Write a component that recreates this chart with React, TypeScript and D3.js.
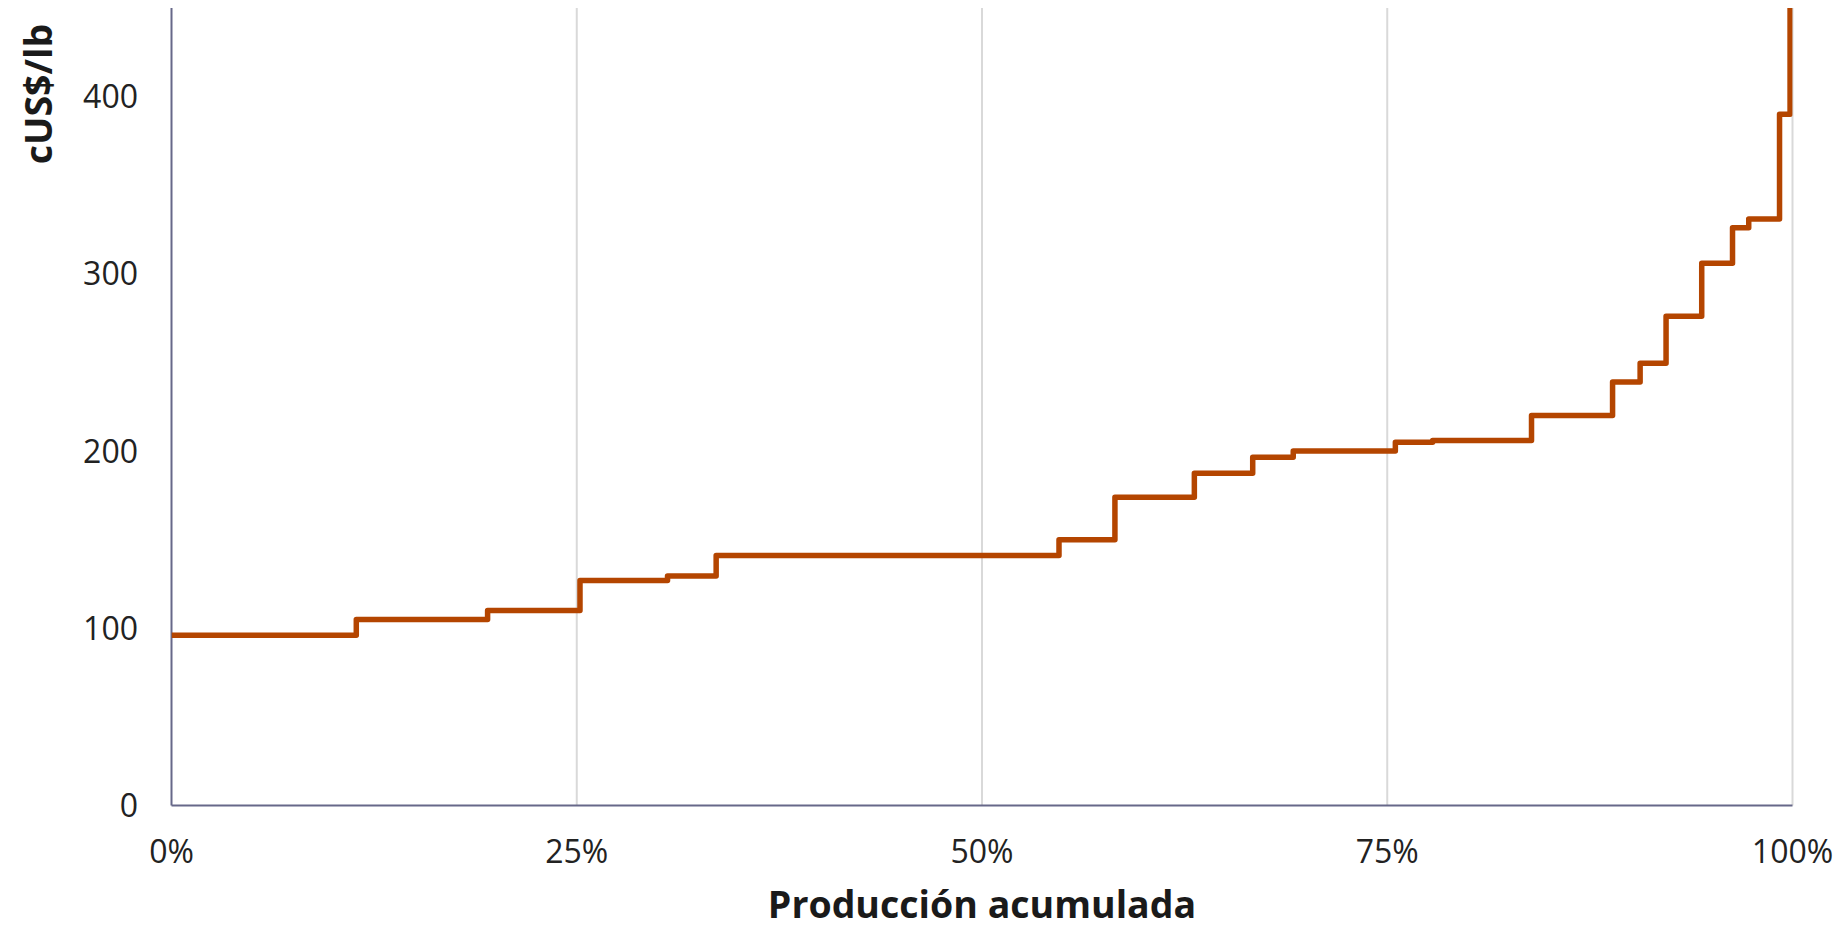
import { useEffect, useRef } from 'react';
import * as d3 from 'd3';

// Cumulative production share (%) where each cost block starts
const cumShare = [0, 11.4, 19.5, 25.2, 30.6, 33.6, 54.75, 58.2, 63.1, 66.7, 69.2, 75.5, 77.8, 83.9, 88.9, 90.6, 92.2, 94.4, 96.3, 97.3, 99.2, 99.85];
// Cost of each block (cUS$/lb)
const cashCost = [96, 105, 110, 127, 129.5, 141, 150, 174, 187.5, 196.5, 200, 205, 206, 220, 239, 249.5, 276, 306, 326, 331, 390, 480];

const xTicks = [0, 25, 50, 75, 100];
const yTicks = [0, 100, 200, 300, 400];

const width = 1844;
const height = 928;

const App = () => {
  const svgRef = useRef<SVGSVGElement>(null);

  useEffect(() => {
    if (!svgRef.current) return;
    const svg = d3.select(svgRef.current);
    svg.selectAll('*').remove();

    const left = 171.5;
    const right = 1792.5;
    const top = 8;
    const bottom = 805.5;
    const font = "'Open Sans', 'Noto Sans', sans-serif";

    const x = d3.scaleLinear().domain([0, 100]).range([left, right]);
    const y = d3.scaleLinear().domain([0, 450]).range([bottom, top]);

    // clip the curve to the plot area
    svg.append('defs')
      .append('clipPath')
      .attr('id', 'plot-clip')
      .append('rect')
      .attr('x', left)
      .attr('y', top)
      .attr('width', right - left)
      .attr('height', bottom - top);

    // vertical gridlines
    svg.append('g')
      .selectAll('line')
      .data(xTicks.filter(d => d > 0))
      .enter()
      .append('line')
      .attr('x1', d => x(d))
      .attr('x2', d => x(d))
      .attr('y1', top)
      .attr('y2', bottom)
      .attr('stroke', '#d9d9d9')
      .attr('stroke-width', 2);

    // axes lines
    svg.append('line')
      .attr('x1', left).attr('x2', left)
      .attr('y1', top).attr('y2', bottom)
      .attr('stroke', '#676889')
      .attr('stroke-width', 2);
    svg.append('line')
      .attr('x1', left).attr('x2', right)
      .attr('y1', bottom).attr('y2', bottom)
      .attr('stroke', '#676889')
      .attr('stroke-width', 2);

    // step curve
    const points: [number, number][] = cumShare.map((s, i) => [s, cashCost[i]]);
    points.push([100, cashCost[cashCost.length - 1]]);

    const line = d3.line<[number, number]>()
      .x(d => x(d[0]))
      .y(d => y(d[1]))
      .curve(d3.curveStepAfter);

    svg.append('path')
      .datum(points)
      .attr('clip-path', 'url(#plot-clip)')
      .attr('d', line)
      .attr('fill', 'none')
      .attr('stroke', '#b44500')
      .attr('stroke-width', 5.5)
      .attr('stroke-linejoin', 'round');

    // x tick labels
    svg.append('g')
      .selectAll('text')
      .data(xTicks)
      .enter()
      .append('text')
      .attr('x', d => x(d))
      .attr('y', 863)
      .attr('text-anchor', 'middle')
      .style('font-family', font)
      .style('font-size', '32px')
      .style('fill', '#222')
      .text(d => `${d}%`);

    // y tick labels
    svg.append('g')
      .selectAll('text')
      .data(yTicks)
      .enter()
      .append('text')
      .attr('x', 138)
      .attr('y', d => y(d))
      .attr('dy', '0.36em')
      .attr('text-anchor', 'end')
      .style('font-family', font)
      .style('font-size', '32px')
      .style('fill', '#222')
      .text(d => d);

    // axis titles
    svg.append('text')
      .attr('x', (left + right) / 2)
      .attr('y', 918)
      .attr('text-anchor', 'middle')
      .style('font-family', font)
      .style('font-size', '37.5px')
      .style('font-weight', 700)
      .style('fill', '#1a1a1a')
      .text('Producción acumulada');

    svg.append('text')
      .attr('transform', 'translate(51.5, 94) rotate(-90)')
      .attr('text-anchor', 'middle')
      .style('font-family', font)
      .style('font-size', '37.5px')
      .style('font-weight', 700)
      .style('fill', '#1a1a1a')
      .text('cUS$/lb');
  }, []);

  return (
    <svg
      ref={svgRef}
      width={width}
      height={height}
      style={{ position: 'absolute', left: 0, top: 0, background: '#fff' }}
    />
  );
};

export default App;
